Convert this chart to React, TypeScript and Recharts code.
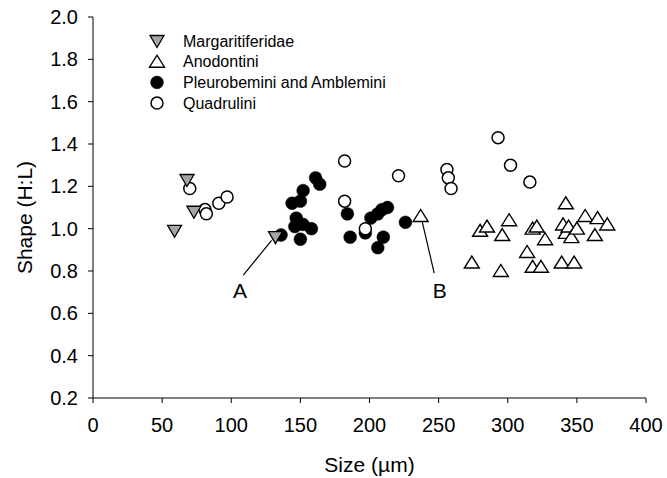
import React from 'react';
import { ScatterChart, Scatter, XAxis, YAxis, Legend, ReferenceLine, ReferenceDot } from 'recharts';

// values: size in µm, shape as H:L
const margaritiferidae = [
  { size: 59, shape: 0.99 },
  { size: 68, shape: 1.23 },
  { size: 73, shape: 1.08 },
  { size: 132, shape: 0.96 },
];

const anodontini = [
  { size: 237, shape: 1.06 },
  { size: 274, shape: 0.84 },
  { size: 280, shape: 0.99 },
  { size: 285, shape: 1.01 },
  { size: 295, shape: 0.8 },
  { size: 296, shape: 0.97 },
  { size: 301, shape: 1.04 },
  { size: 314, shape: 0.89 },
  { size: 318, shape: 1.0 },
  { size: 318, shape: 0.82 },
  { size: 321, shape: 1.01 },
  { size: 324, shape: 0.82 },
  { size: 327, shape: 0.95 },
  { size: 339, shape: 0.84 },
  { size: 340, shape: 1.02 },
  { size: 342, shape: 1.12 },
  { size: 342, shape: 0.98 },
  { size: 344, shape: 1.01 },
  { size: 346, shape: 0.96 },
  { size: 348, shape: 0.84 },
  { size: 350, shape: 1.0 },
  { size: 356, shape: 1.06 },
  { size: 363, shape: 0.97 },
  { size: 365, shape: 1.05 },
  { size: 372, shape: 1.02 },
];

const pleurobemini = [
  { size: 136, shape: 0.97 },
  { size: 144, shape: 1.12 },
  { size: 146, shape: 1.01 },
  { size: 147, shape: 1.05 },
  { size: 150, shape: 1.13 },
  { size: 150, shape: 0.95 },
  { size: 152, shape: 1.18 },
  { size: 152, shape: 1.02 },
  { size: 158, shape: 1.0 },
  { size: 161, shape: 1.24 },
  { size: 164, shape: 1.21 },
  { size: 184, shape: 1.07 },
  { size: 186, shape: 0.96 },
  { size: 197, shape: 0.98 },
  { size: 201, shape: 1.05 },
  { size: 206, shape: 1.07 },
  { size: 206, shape: 0.91 },
  { size: 209, shape: 1.09 },
  { size: 210, shape: 0.96 },
  { size: 213, shape: 1.1 },
  { size: 226, shape: 1.03 },
];

const quadrulini = [
  { size: 70, shape: 1.19 },
  { size: 81, shape: 1.09 },
  { size: 82, shape: 1.07 },
  { size: 91, shape: 1.12 },
  { size: 97, shape: 1.15 },
  { size: 182, shape: 1.32 },
  { size: 182, shape: 1.13 },
  { size: 197, shape: 1.0 },
  { size: 221, shape: 1.25 },
  { size: 256, shape: 1.28 },
  { size: 257, shape: 1.24 },
  { size: 259, shape: 1.19 },
  { size: 293, shape: 1.43 },
  { size: 302, shape: 1.3 },
  { size: 316, shape: 1.22 },
];

// annotation lines and letters
const arrowA = [{ x: 108.7, y: 0.78 }, { x: 129.2, y: 0.945 }];
const arrowB = [{ x: 246.8, y: 0.79 }, { x: 237.7, y: 1.045 }];
const labelA = { size: 106.3, shape: 0.71 };
const labelB = { size: 250.9, shape: 0.71 };

const xTicks = [0, 50, 100, 150, 200, 250, 300, 350, 400];
const yTicks = [0.2, 0.4, 0.6, 0.8, 1.0, 1.2, 1.4, 1.6, 1.8, 2.0];

const legendItems = [
  { name: 'Margaritiferidae', kind: 'down' },
  { name: 'Anodontini', kind: 'up' },
  { name: 'Pleurobemini and Amblemini', kind: 'dot' },
  { name: 'Quadrulini', kind: 'ring' },
];

const FONT = '"Liberation Sans", Arial, Helvetica, sans-serif';
const GREY = '#a6a6a6';

const Marker = ({ kind, cx, cy }: { kind: string; cx: number; cy: number }) => {
  if (kind === 'down') {
    return (
      <polygon
        points={`${cx - 7},${cy - 5.5} ${cx + 7},${cy - 5.5} ${cx},${cy + 6.5}`}
        fill={GREY}
        stroke="#000"
        strokeWidth={1.3}
        strokeLinejoin="miter"
      />
    );
  }
  if (kind === 'up') {
    return (
      <polygon
        points={`${cx - 7.5},${cy + 5.5} ${cx + 7.5},${cy + 5.5} ${cx},${cy - 6.5}`}
        fill="#fff"
        stroke="#000"
        strokeWidth={1.4}
      />
    );
  }
  if (kind === 'dot') {
    return <circle cx={cx} cy={cy} r={6.4} fill="#000" stroke="#000" strokeWidth={0.5} />;
  }
  return <circle cx={cx} cy={cy} r={6} fill="#fff" stroke="#000" strokeWidth={1.5} />;
};

const shapeOf = (kind: string) => (props: any) => <Marker kind={kind} cx={props.cx} cy={props.cy} />;

const renderLegend = () => (
  <svg width={260} height={90}>
    {legendItems.map((item, i) => {
      const cy = 11 + i * 20.7;
      return (
        <g key={item.name}>
          <Marker kind={item.kind} cx={12} cy={cy} />
          <text x={38} y={cy} dominantBaseline="central" fontSize={16} fontFamily={FONT} fill="#000">
            {item.name}
          </text>
        </g>
      );
    })}
  </svg>
);

const App = () => {
  return (
    <div style={{ position: 'absolute', left: 0, top: 0, width: 667, height: 478, background: '#fff' }}>
      <ScatterChart width={667} height={478} margin={{ top: 17, right: 21, bottom: 0, left: 0 }}>
        <XAxis
          type="number"
          dataKey="size"
          domain={[0, 400]}
          ticks={xTicks}
          height={80}
          tickSize={5}
          tickMargin={15}
          axisLine={{ stroke: '#000' }}
          tickLine={{ stroke: '#000' }}
          tick={{ fill: '#000', fontSize: 20, fontFamily: FONT }}
          label={{
            content: (p: any) => {
              const vb = p.viewBox || { x: 93, y: 398, width: 553 };
              return (
                <text x={vb.x + vb.width / 2} y={vb.y + 74} textAnchor="middle" fontSize={21} fontFamily={FONT} fill="#000">
                  Size (µm)
                </text>
              );
            },
          }}
        />
        <YAxis
          type="number"
          dataKey="shape"
          domain={[0.2, 2.0]}
          ticks={yTicks}
          width={93}
          tickSize={5}
          tickMargin={10}
          tickFormatter={(v: number) => v.toFixed(1)}
          axisLine={{ stroke: '#000' }}
          tickLine={{ stroke: '#000' }}
          tick={{ fill: '#000', fontSize: 20, fontFamily: FONT }}
          label={{
            content: (p: any) => {
              const vb = p.viewBox || { x: 0, y: 17, height: 381 };
              const cx = vb.x + 24;
              const cy = vb.y + vb.height / 2 + 10;
              return (
                <text
                  x={cx}
                  y={cy}
                  transform={`rotate(-90 ${cx} ${cy})`}
                  textAnchor="middle"
                  dominantBaseline="central"
                  fontSize={21}
                  fontFamily={FONT}
                  fill="#000"
                >
                  Shape (H:L)
                </text>
              );
            },
          }}
        />
        <Legend
          layout="vertical"
          align="center"
          verticalAlign="middle"
          content={renderLegend}
          wrapperStyle={{ position: 'absolute', left: 145, top: 30, width: 260, height: 90 }}
        />
        <ReferenceLine segment={arrowA} stroke="#000" strokeWidth={1.2} />
        <ReferenceLine segment={arrowB} stroke="#000" strokeWidth={1.2} />
        <ReferenceDot
          x={labelA.size}
          y={labelA.shape}
          r={1}
          fillOpacity={0}
          strokeOpacity={0}
          label={{ value: 'A', position: 'center', fontSize: 21, fontFamily: FONT, fill: '#000' }}
        />
        <ReferenceDot
          x={labelB.size}
          y={labelB.shape}
          r={1}
          fillOpacity={0}
          strokeOpacity={0}
          label={{ value: 'B', position: 'center', fontSize: 21, fontFamily: FONT, fill: '#000' }}
        />
        <Scatter name="Pleurobemini and Amblemini" data={pleurobemini} shape={shapeOf('dot')} isAnimationActive={false} />
        <Scatter name="Anodontini" data={anodontini} shape={shapeOf('up')} isAnimationActive={false} />
        <Scatter name="Quadrulini" data={quadrulini} shape={shapeOf('ring')} isAnimationActive={false} />
        <Scatter name="Margaritiferidae" data={margaritiferidae} shape={shapeOf('down')} isAnimationActive={false} />
      </ScatterChart>
    </div>
  );
};

export default App;
